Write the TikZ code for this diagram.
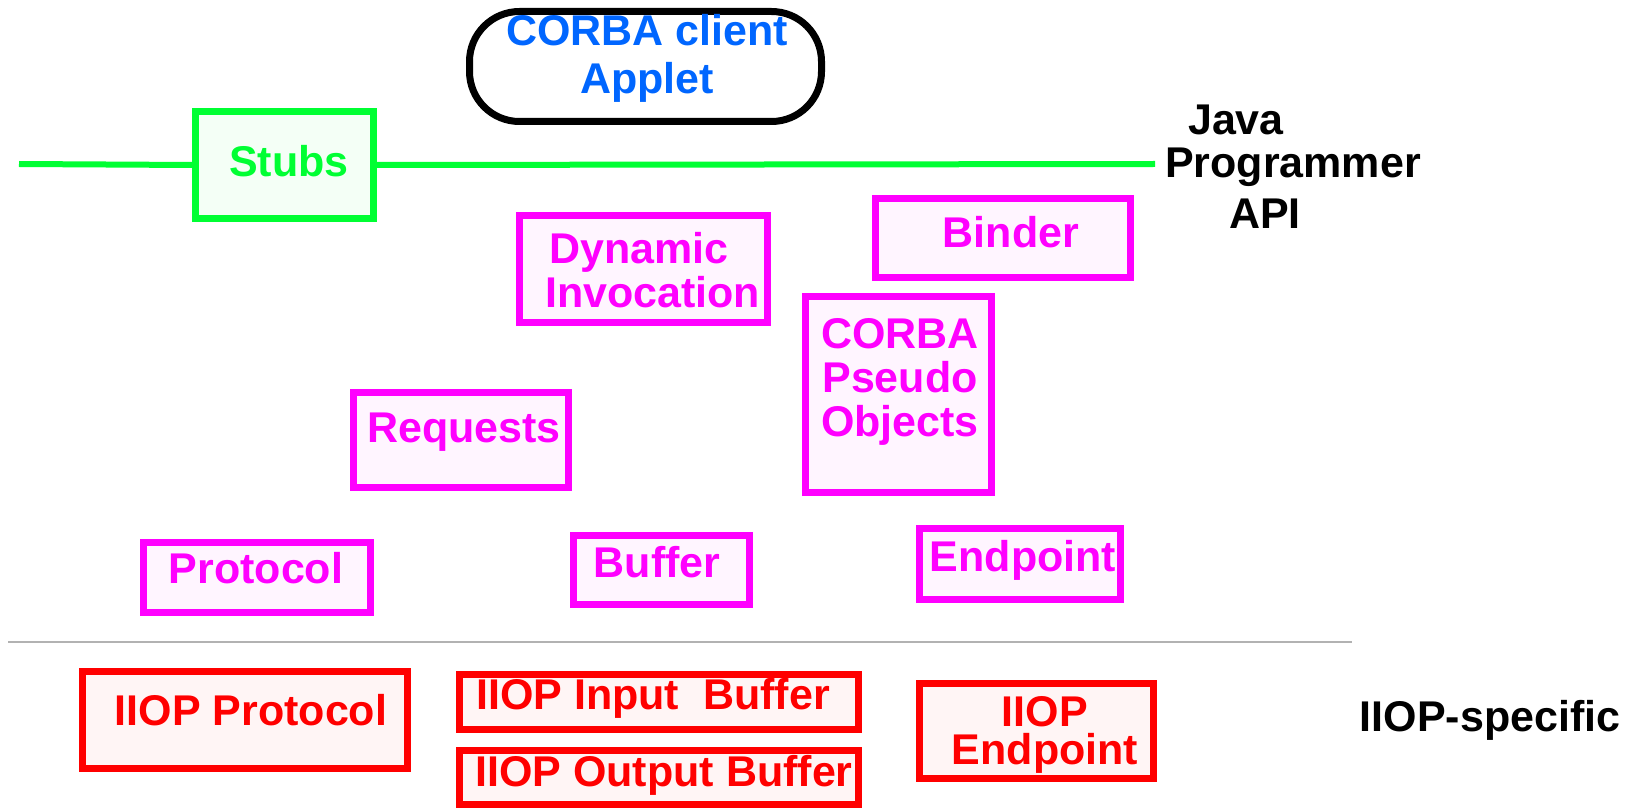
\documentclass[tikz,border=0pt]{standalone}
\usepackage{fontspec}
\setmainfont{Liberation Sans}
\usepackage{tikz}

\definecolor{stubgreen}{RGB}{0,255,51}
\definecolor{stubfill}{RGB}{244,255,246}
\definecolor{orbpink}{RGB}{255,0,255}
\definecolor{orbfill}{RGB}{255,245,255}
\definecolor{iiopred}{RGB}{255,0,0}
\definecolor{iiopfill}{RGB}{255,245,245}
\definecolor{clientblue}{RGB}{0,102,255}

\tikzset{
  txt/.style={font=\bfseries\fontsize{43}{44}\selectfont, inner sep=0pt, align=center},
  box/.style={draw, line width=7pt, inner sep=0pt},
  greenbox/.style={box, draw=stubgreen, fill=stubfill},
  pinkbox/.style={box, draw=orbpink, fill=orbfill},
  redbox/.style={box, draw=iiopred, fill=iiopfill},
}

\begin{document}
\begin{tikzpicture}[x=1pt,y=-1pt]
    \useasboundingbox (0,0) rectangle (1631,810);

    % Java programmer API line
    \coordinate (lineL) at (19,164);
    \coordinate (lineR) at (1155,164);
    \node[greenbox, minimum width=178, minimum height=107] (stubs) at (284.5,165) {};
    \draw[stubgreen, line width=6pt] (lineL) -- (stubs.west);
    \draw[stubgreen, line width=6pt] (stubs.east) -- (lineR);
    \node[txt, text=stubgreen] (stubstxt) at (289,161) {Stubs};

    % client
    \node[draw, line width=7pt, rounded corners=50pt, minimum width=352, minimum height=110] (client) at (645.5,66.5) {};
    \node[txt, text=clientblue, font=\bfseries\fontsize{43}{48}\selectfont] (clienttxt) at (647,58) {CORBA client\\Applet};

    \node[txt] (java) at (1236,120) {Java};
    \node[txt] (prog) at (1293,167) {Programmer};
    \node[txt] (api) at (1265,214) {API};

    % ORB boxes
    \node[pinkbox, minimum width=248, minimum height=107] (dii) at (643.5,269) {};
    \node[txt, text=orbpink, anchor=west, align=left] (diitxt) at (545,270) {\hspace{4pt}Dynamic\\Invocation};
    \node[pinkbox, minimum width=255, minimum height=79] (binder) at (1003,238) {};
    \node[txt, text=orbpink] (bindertxt) at (1011,232) {Binder};
    \node[pinkbox, minimum width=186, minimum height=196] (pseudo) at (898.5,394.5) {};
    \node[txt, text=orbpink] (pseudotxt) at (900,382) {CORBA\\Pseudo\\Objects};
    \node[pinkbox, minimum width=215, minimum height=95] (req) at (461,440) {};
    \node[txt, text=orbpink] (reqtxt) at (464,432) {Requests};
    \node[pinkbox, minimum width=227, minimum height=70] (proto) at (257,577.5) {};
    \node[txt, text=orbpink] (prototxt) at (256,568) {Protocol};
    \node[pinkbox, minimum width=176, minimum height=69] (buf) at (661.5,570) {};
    \node[txt, text=orbpink] (buftxt) at (657,562) {Buffer};
    \node[pinkbox, minimum width=201, minimum height=71] (endp) at (1020,564) {};
    \node[txt, text=orbpink] (endptxt) at (1023,560) {Endpoint};

    % separator
    \coordinate (sepL) at (8,642);
    \coordinate (sepR) at (1352,642);
    \draw[gray!60, line width=2pt] (sepL) -- (sepR);

    % IIOP boxes
    \node[redbox, minimum width=325, minimum height=97] (iproto) at (245,720) {};
    \node[txt, text=iiopred] (iprototxt) at (251,710) {IIOP Protocol};
    \node[redbox, minimum width=399, minimum height=55] (ibuf) at (659,702) {};
    \node[txt, text=iiopred] (ibuftxt) at (653,698) {IIOP Input\ \ Buffer};
    \node[redbox, minimum width=399, minimum height=54] (obuf) at (659,777.5) {};
    \node[txt, text=iiopred] (obuftxt) at (664,775) {IIOP Output Buffer};
    \node[redbox, minimum width=234, minimum height=95] (iendp) at (1036.5,731) {};
    \node[txt, text=iiopred, font=\bfseries\fontsize{43}{38}\selectfont] (iendptxt) at (1045,735) {IIOP\\Endpoint};

    \node[txt] (spec) at (1490,720) {IIOP-specific};
\end{tikzpicture}
\end{document}
